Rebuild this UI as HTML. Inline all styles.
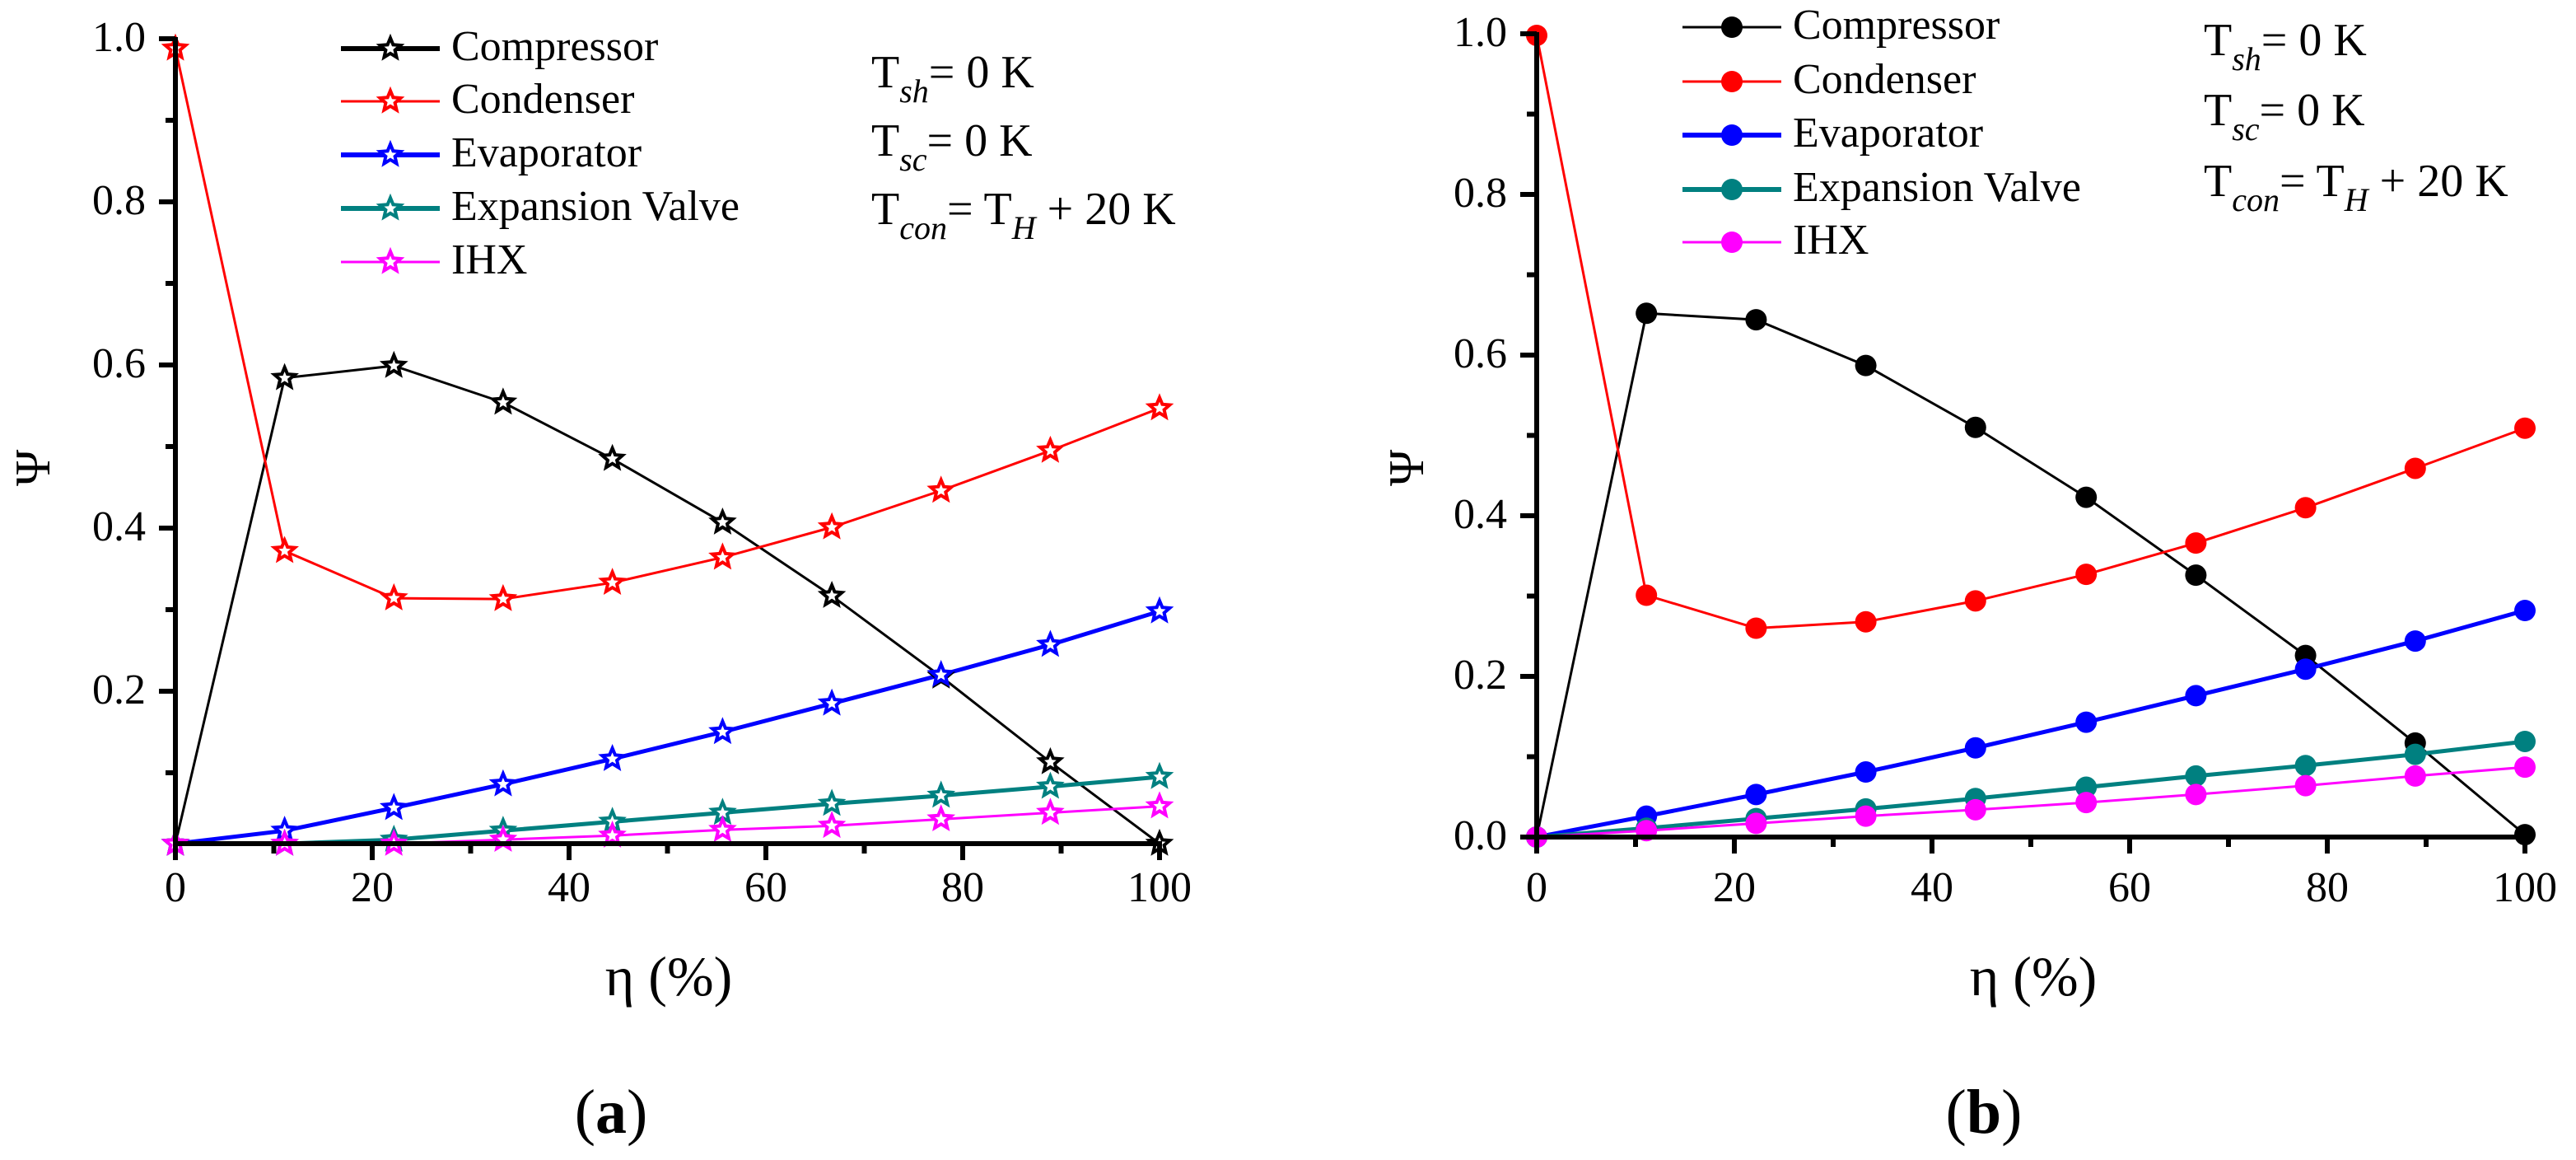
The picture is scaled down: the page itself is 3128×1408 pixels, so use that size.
<!DOCTYPE html>
<html><head><meta charset="utf-8"><style>
html,body{margin:0;padding:0;background:#fff;}
#wrap{position:relative;width:3128px;height:1408px;overflow:hidden;}
svg{display:block;position:absolute;left:0;top:0;}
.t{position:absolute;white-space:nowrap;line-height:1;font-family:"Liberation Serif",serif;color:#000;}
.sub{font-style:italic;font-size:40px;position:relative;top:18px;}
</style></head><body>
<div id="wrap">
<svg id="fig" width="3128" height="1408" viewBox="0 0 3128 1408" xmlns="http://www.w3.org/2000/svg"></svg>
</div>
<script>
const etaValues = [0, 11.1, 22.2, 33.3, 44.4, 55.6, 66.7, 77.8, 88.9, 100];
const seriesNames = ["Compressor", "Condenser", "Evaporator", "Expansion Valve", "IHX"];
const seriesColors = ["#000000", "#ff0000", "#0000ff", "#008080", "#ff00ff"];
const xTickLabels = ["0", "20", "40", "60", "80", "100"];
const yTickLabelsA = ["0.2", "0.4", "0.6", "0.8", "1.0"];
const yTickLabelsB = ["0.0", "0.2", "0.4", "0.6", "0.8", "1.0"];
const compressorA = [0.013, 0.584, 0.599, 0.554, 0.485, 0.407, 0.317, 0.218, 0.113, 0.013];
const condenserA = [0.988, 0.372, 0.314, 0.313, 0.333, 0.364, 0.401, 0.446, 0.495, 0.547];
const evaporatorA = [0.013, 0.029, 0.057, 0.086, 0.117, 0.150, 0.185, 0.220, 0.257, 0.298];
const expansionA = [0.013, 0.013, 0.018, 0.029, 0.040, 0.051, 0.062, 0.072, 0.083, 0.095];
const ihxA = [0.013, 0.013, 0.013, 0.018, 0.023, 0.030, 0.035, 0.043, 0.051, 0.059];
const compressorB = [0.0, 0.652, 0.644, 0.587, 0.510, 0.423, 0.326, 0.226, 0.117, 0.003];
const condenserB = [0.998, 0.301, 0.260, 0.268, 0.294, 0.327, 0.366, 0.410, 0.459, 0.509];
const evaporatorB = [0.0, 0.026, 0.053, 0.081, 0.111, 0.143, 0.176, 0.209, 0.244, 0.282];
const expansionB = [0.0, 0.011, 0.023, 0.035, 0.048, 0.062, 0.076, 0.089, 0.103, 0.119];
const ihxB = [0.0, 0.008, 0.017, 0.026, 0.034, 0.043, 0.053, 0.064, 0.076, 0.087];

const NS = "http://www.w3.org/2000/svg";
const svg = document.getElementById("fig");
const wrap = document.getElementById("wrap");
function mk(tag, attrs, parent){
  const e = document.createElementNS(NS, tag);
  for (const k in attrs) e.setAttribute(k, attrs[k]);
  (parent || svg).appendChild(e);
  return e;
}
// HTML text: x, baseline y, size, anchor
function txt(html, x, y, size, anchor, name, extra){
  const d = document.createElement("div");
  d.className = "t";
  d.innerHTML = html;
  d.style.fontSize = size + "px";
  d.style.left = x + "px";
  d.style.top = (y - 0.8375*size) + "px";
  let tr = anchor === "middle" ? "translateX(-50%)" : anchor === "end" ? "translateX(-100%)" : "";
  if (extra) tr += " " + extra;
  if (tr) d.style.transform = tr;
  
  
  wrap.appendChild(d);
  return d;
}
function starPts(cx, cy, r){
  const p = [];
  for (let i = 0; i < 10; i++){
    const a = -Math.PI/2 + i*Math.PI/5;
    const rr = i%2 ? r*0.45 : r;
    p.push((cx+rr*Math.cos(a)).toFixed(1)+","+(cy+rr*Math.sin(a)).toFixed(1));
  }
  return p.join(" ");
}
const lineWidths = [3, 3, 5, 5, 3];

function panel(cfg){
  const g = mk("g", {});
  
  
  const xS = v => cfg.x0 + (v/100)*(cfg.x1 - cfg.x0);
  const yS = v => cfg.y0 - v*cfg.yUnit;
  const data = cfg.data;
  data.forEach((vals, si) => {
    const pts = vals.map((v,i) => xS(etaValues[i]).toFixed(1)+","+yS(v).toFixed(1)).join(" ");
    const pl = mk("polyline", {points: pts, fill: "none", stroke: seriesColors[si], "stroke-width": lineWidths[si], "stroke-linejoin": "round"}, g);
    
    
  });
  data.forEach((vals, si) => {
    vals.forEach((v,i) => {
      let m;
      if (cfg.marker === "star"){
        m = mk("polygon", {points: starPts(xS(etaValues[i]), yS(v), 13), fill: "#fff", stroke: seriesColors[si], "stroke-width": 4}, g);
      } else {
        m = mk("circle", {cx: xS(etaValues[i]), cy: yS(v), r: 13, fill: seriesColors[si]}, g);
      }
      
      
    });
  });
  const ax = mk("line", {x1: cfg.x0, y1: cfg.axisY+3, x2: cfg.x0, y2: yS(1)-2, stroke: "#000", "stroke-width": 6}, g);
  
  
  const bx = mk("line", {x1: cfg.x0-3, y1: cfg.axisY, x2: cfg.x1+3, y2: cfg.axisY, stroke: "#000", "stroke-width": 6}, g);
  
  
  for (let i = 0; i <= 10; i++){
    const x = xS(i*10), major = i%2 === 0;
    mk("line", {x1: x, y1: cfg.axisY, x2: x, y2: cfg.axisY + (major ? 20 : 12), stroke: "#000", "stroke-width": 6}, g);
  }
  xTickLabels.forEach((lab, i) => {
    txt(lab, xS(i*20), 1096, 52, "middle", "x-tick-label");
  });
  for (let i = 0; i <= 10; i++){
    const v = i/10;
    if (yS(v) > cfg.axisY + 1) continue;
    const major = i%2 === 0;
    mk("line", {x1: cfg.x0 - (major ? 20 : 12), y1: yS(v), x2: cfg.x0, y2: yS(v), stroke: "#000", "stroke-width": 6}, g);
  }
  cfg.yLabels.forEach(lab => {
    txt(lab, cfg.x0 - 36, yS(parseFloat(lab)) + 17, 52, "end", "y-tick-label");
  });
  txt("η (%)", cfg.xTitleX, 1208, 68, "middle", "x-axis-title");
  const yt = txt("Ψ", cfg.yTitleX, 610, 60, "middle", "y-axis-title", "rotate(-90deg)");
  yt.style.transformOrigin = "0 50%";
  cfg.legendRows.forEach((ly, si) => {
    const lg = mk("g", {}, g);
    
    
    mk("line", {x1: cfg.legX, y1: ly, x2: cfg.legX + 120, y2: ly, stroke: seriesColors[si], "stroke-width": cfg.legW[si]}, lg);
    if (cfg.marker === "star") mk("polygon", {points: starPts(cfg.legX+60, ly, 13), fill: "#fff", stroke: seriesColors[si], "stroke-width": 4}, lg);
    else mk("circle", {cx: cfg.legX+60, cy: ly, r: 13, fill: seriesColors[si]}, lg);
    txt(seriesNames[si], cfg.legX + 134, ly + 16, 52, "start", "legend-label");
  });
  txt('T<span class="sub">sh</span>= 0 K', cfg.annX, cfg.annY[0], 56, "start", "annotation-tsh");
  txt('T<span class="sub">sc</span>= 0 K', cfg.annX, cfg.annY[1], 56, "start", "annotation-tsc");
  txt('T<span class="sub">con</span>= T<span class="sub">H</span> + 20 K', cfg.annX, cfg.annY[2], 56, "start", "annotation-tcon");
  txt('(<b>' + cfg.letter + '</b>)', cfg.labX, 1376, 76, "middle", "panel-label");
}

panel({name: "chart-a", x0: 213, x1: 1408, y0: 1037, yUnit: 990, axisY: 1024, marker: "star",
  data: [compressorA, condenserA, evaporatorA, expansionA, ihxA], yLabels: yTickLabelsA,
  xTitleX: 812, yTitleX: 62, legX: 414, legendRows: [59, 123, 188, 253, 318], legW: [6, 3, 6, 6, 3],
  annX: 1058, annY: [107, 190, 273], labX: 742, letter: "a"});
panel({name: "chart-b", x0: 1866, x1: 3066, y0: 1016, yUnit: 975, axisY: 1016, marker: "circle",
  data: [compressorB, condenserB, evaporatorB, expansionB, ihxB], yLabels: yTickLabelsB,
  xTitleX: 2469, yTitleX: 1730, legX: 2043, legendRows: [33, 99, 164, 230, 294], legW: [3, 3, 6, 6, 3],
  annX: 2676, annY: [68, 153, 239], labX: 2409, letter: "b"});
</script>
</body></html>
